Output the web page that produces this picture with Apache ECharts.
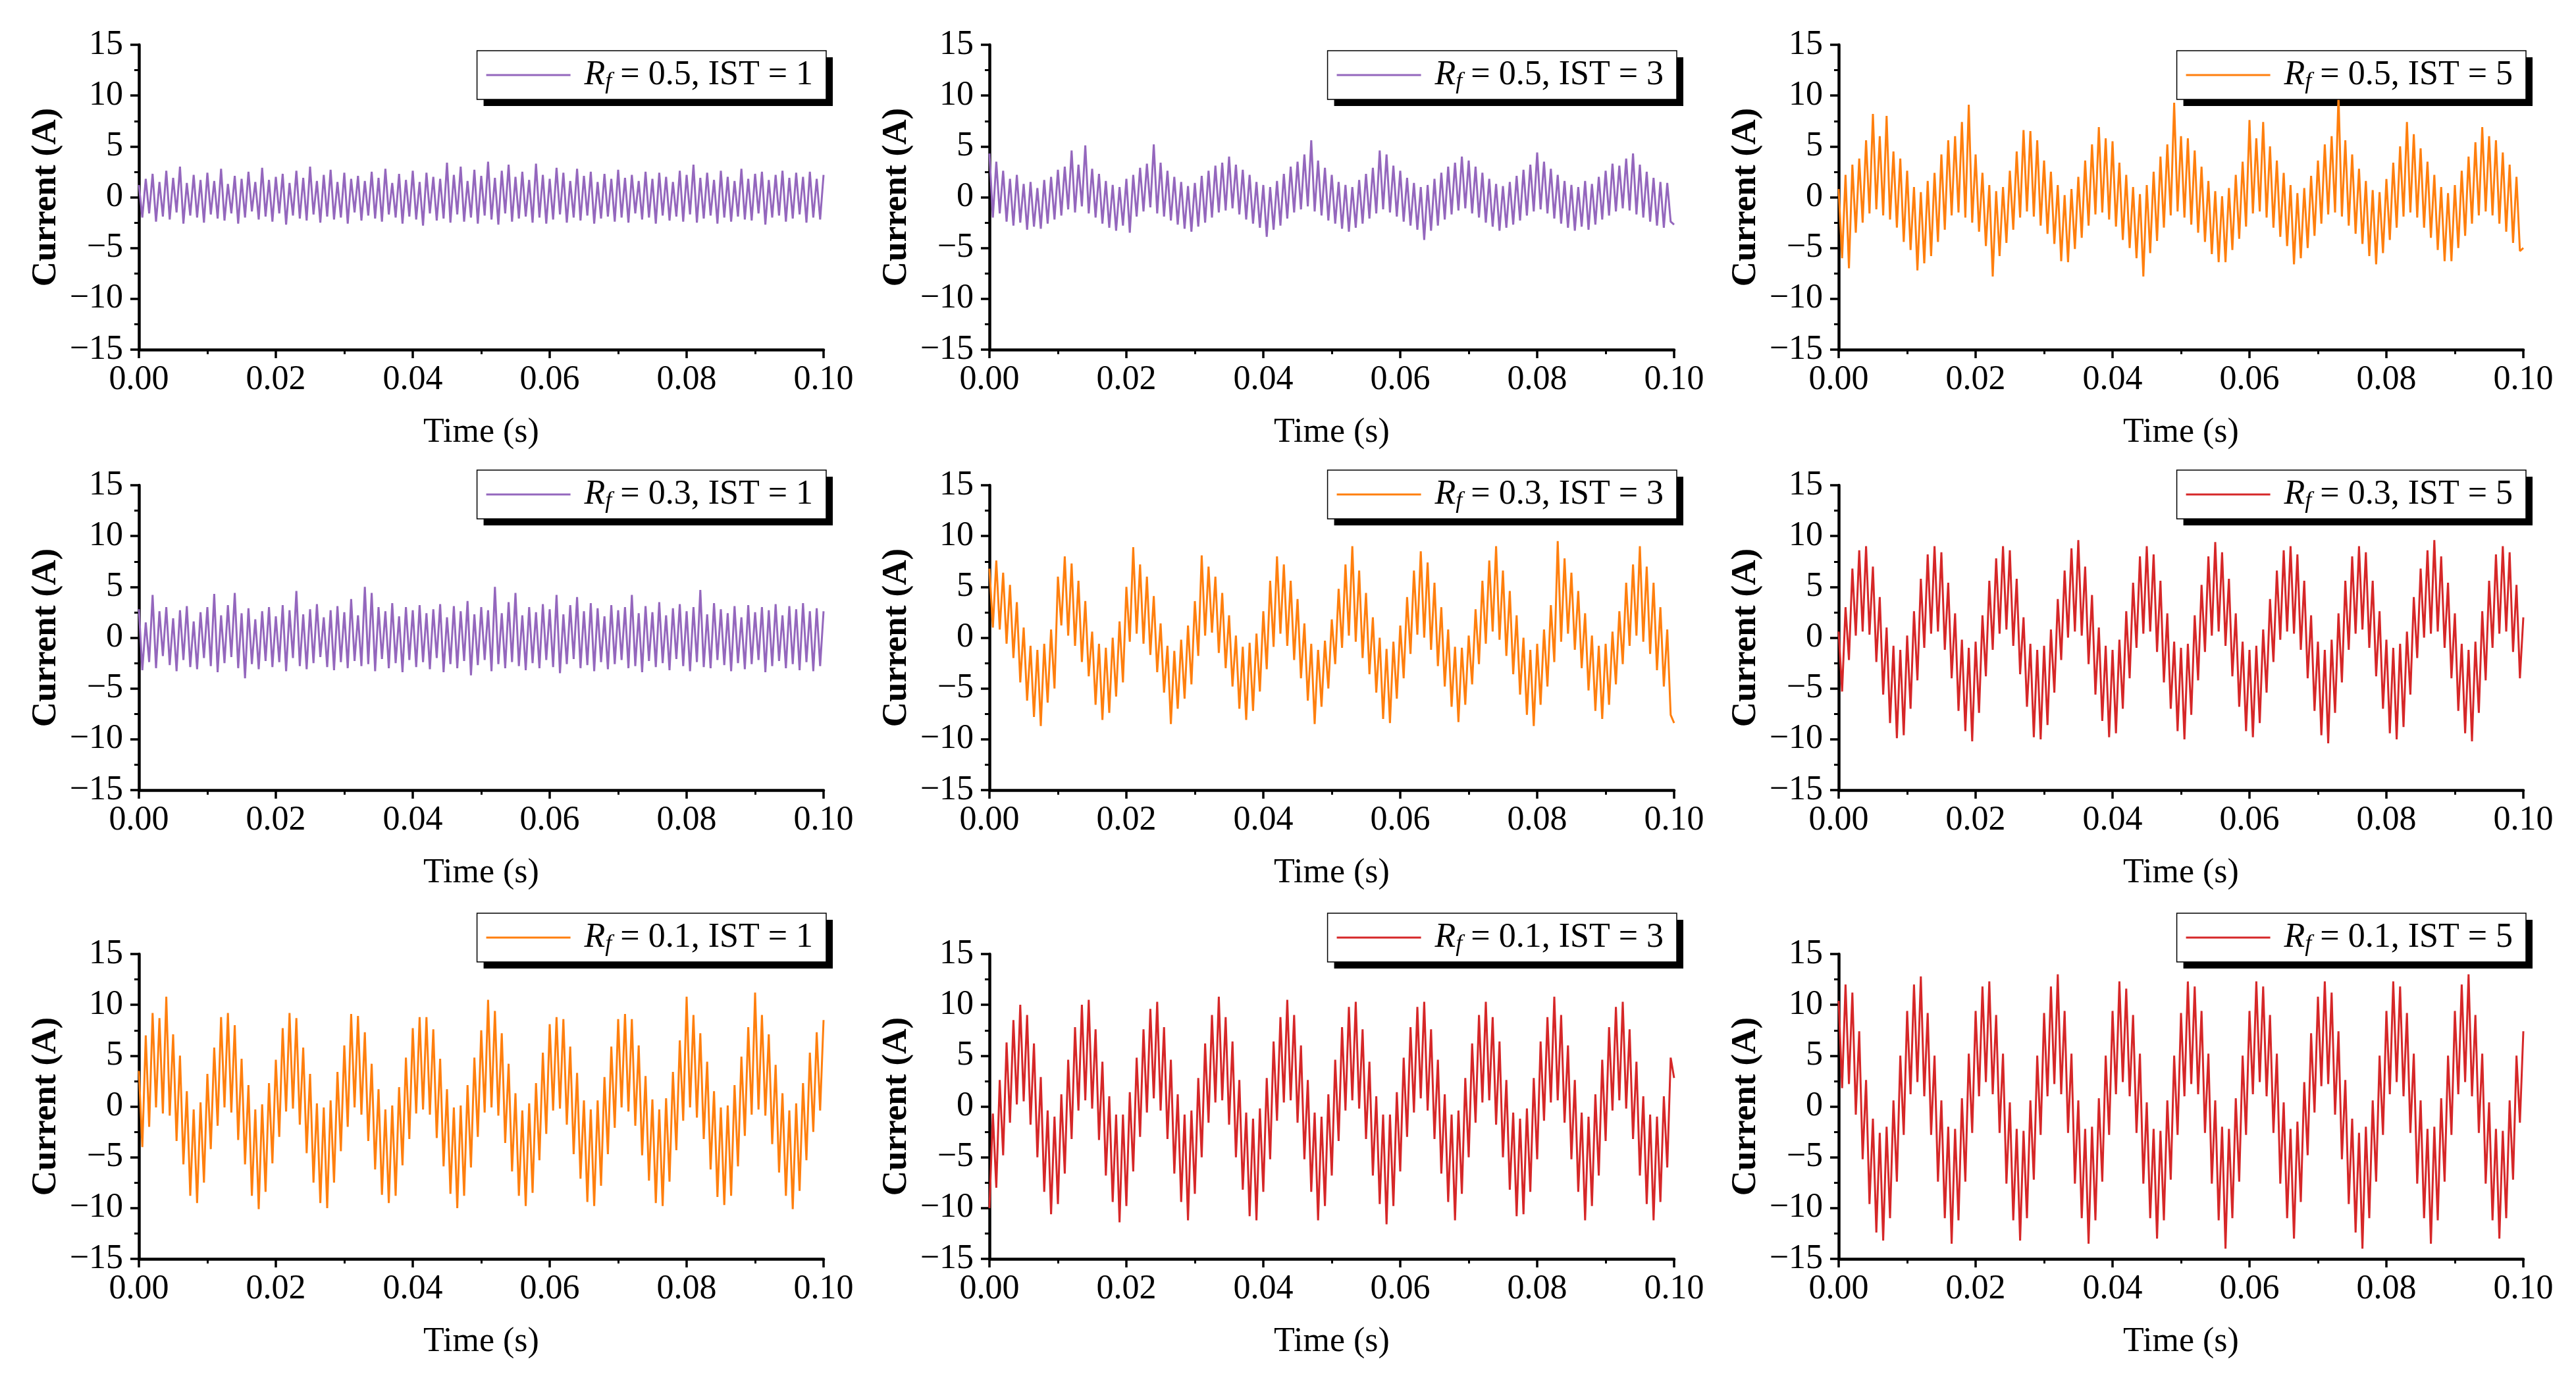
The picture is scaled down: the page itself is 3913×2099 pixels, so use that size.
<!DOCTYPE html>
<html style="height: 100%">
<head>
    <meta charset="utf-8">
    <title>Current waveforms</title>
    <script src="https://cdn.jsdelivr.net/npm/echarts@6.0.0/dist/echarts.min.js"></script>
</head>
<body style="height: 100%; margin: 0; background: #fff">
    <div id="main" style="width: 100%; height: 100%;"></div>
    <script type="text/javascript">
    // sample step of the recorded current (s)
    var dt = 0.0005;
    var rfValues = ['0.5', '0.3', '0.1'];
    var istValues = ['1', '3', '5'];

    var cur05_1 = [1.2,-2.0,1.8,-1.6,2.3,-2.4,1.5,-1.9,2.6,-2.2,
        1.9,-1.5,3.0,-2.6,1.4,-1.8,2.2,-2.0,1.7,-2.5,
        2.4,-1.7,1.6,-2.1,2.8,-2.3,1.3,-1.6,2.1,-2.6,
        1.8,-2.0,2.5,-1.4,1.5,-2.2,2.9,-1.9,1.7,-2.4,
        2.0,-1.6,2.3,-2.7,1.4,-1.8,2.6,-2.1,1.9,-2.3,
        3.0,-1.7,1.6,-2.5,2.2,-1.9,2.7,-2.2,1.5,-2.0,
        2.4,-2.6,1.8,-1.5,2.1,-2.3,1.6,-1.8,2.5,-2.1,
        1.9,-2.4,2.8,-1.7,1.4,-2.0,2.3,-2.6,1.7,-1.9,
        2.6,-2.2,1.5,-2.8,2.4,-1.6,2.0,-2.3,1.8,-2.1,
        3.4,-2.5,2.2,-1.7,3.0,-2.4,1.6,-2.0,2.7,-2.6,
        2.1,-1.8,3.5,-2.2,1.9,-2.7,2.6,-1.6,3.2,-2.4,
        2.0,-2.1,2.5,-1.9,1.7,-2.5,3.3,-2.0,2.2,-2.6,
        1.8,-2.2,2.9,-1.7,2.4,-2.5,1.6,-2.0,2.8,-2.3,
        2.1,-1.8,2.5,-2.6,1.5,-2.1,2.3,-1.9,1.8,-2.4,
        2.7,-2.0,1.9,-2.5,2.2,-1.6,1.6,-2.2,2.5,-2.0,
        1.8,-2.6,2.4,-1.8,2.0,-2.3,1.5,-1.9,2.6,-2.4,
        2.2,-1.7,3.2,-2.5,1.9,-2.1,2.4,-1.8,1.7,-2.6,
        2.6,-2.0,2.0,-2.4,1.6,-1.9,2.8,-2.2,1.8,-2.3,
        2.3,-1.6,2.5,-2.7,1.7,-2.0,2.2,-1.8,2.6,-2.4,
        1.9,-2.1,2.4,-1.7,2.0,-2.5,2.5,-2.0,1.8,-2.2,
        2.2];

    var cur05_3 = [4.3,-2.0,3.5,-1.6,2.6,-2.4,1.8,-2.8,2.2,-2.5,
        1.3,-3.2,1.5,-2.9,0.9,-3.1,1.7,-2.6,2.0,-2.2,
        2.7,-1.8,3.0,-1.2,4.6,-1.5,3.2,-0.9,5.1,-1.6,
        2.8,-2.0,2.3,-2.6,1.6,-3.0,1.2,-3.3,1.0,-2.8,
        1.8,-3.5,2.2,-1.9,2.9,-1.4,3.3,-1.0,5.2,-1.6,
        3.4,-1.9,2.6,-2.3,2.0,-2.7,1.5,-3.1,1.1,-3.4,
        1.4,-2.9,2.1,-2.5,2.6,-2.0,3.1,-1.5,3.4,-1.3,
        4.0,-1.1,3.2,-1.7,2.7,-2.2,2.2,-2.6,1.5,-3.0,
        1.2,-3.9,1.0,-3.2,1.6,-2.8,2.3,-2.1,3.0,-1.5,
        3.5,-1.2,4.2,-0.9,5.6,-1.4,3.6,-1.8,2.9,-2.3,
        2.2,-2.6,1.5,-3.1,1.2,-3.4,1.0,-3.0,1.7,-2.6,
        2.3,-2.1,2.9,-1.6,4.6,-1.2,4.2,-1.5,3.1,-1.9,
        2.6,-2.4,1.9,-2.8,1.4,-3.2,1.0,-4.2,1.2,-3.3,
        1.8,-2.8,2.4,-2.2,3.0,-1.7,3.4,-1.3,4.0,-1.1,
        3.6,-1.6,3.0,-2.0,2.4,-2.5,1.8,-2.9,1.3,-3.3,
        1.1,-3.0,1.5,-2.7,2.1,-2.3,2.7,-1.8,3.2,-1.4,
        4.4,-1.2,3.5,-1.6,2.8,-2.1,2.2,-2.6,1.6,-3.0,
        1.2,-3.3,1.0,-2.9,1.6,-3.2,1.3,-2.7,2.0,-2.2,
        2.6,-1.8,3.3,-1.4,3.1,-1.1,3.8,-1.3,4.3,-1.7,
        3.2,-2.0,2.5,-2.4,1.9,-2.8,1.5,-3.0,1.4,-2.4,
        -2.7];

    var cur05_5 = [0.8,-6.0,2.2,-7.0,3.2,-3.5,3.8,-2.5,5.6,-1.6,
        8.2,-1.2,6.0,-1.8,8.0,-2.2,4.5,-3.0,3.8,-4.4,
        2.6,-5.2,1.0,-7.2,0.5,-6.5,1.6,-5.8,2.4,-4.4,
        4.2,-3.2,5.6,-1.8,6.0,-1.5,7.4,-2.0,9.1,-2.5,
        4.2,-3.4,2.4,-4.8,1.2,-7.8,0.6,-5.8,1.0,-4.5,
        2.6,-3.2,4.5,-2.0,6.6,-1.4,6.5,-1.9,5.6,-2.8,
        3.6,-3.6,2.5,-4.6,1.2,-6.3,0.2,-6.4,0.8,-5.1,
        2.0,-4.0,3.6,-2.8,5.2,-1.7,6.9,-1.5,5.8,-2.2,
        5.5,-2.9,3.4,-4.2,2.2,-5.0,1.0,-6.0,0.3,-7.8,
        1.2,-5.5,2.5,-4.3,4.0,-3.0,5.2,-1.8,9.3,-1.4,
        6.0,-2.0,5.8,-2.7,4.6,-3.5,3.0,-4.4,1.6,-5.6,
        0.6,-6.4,0.1,-6.4,0.9,-5.2,2.2,-4.1,3.5,-2.9,
        7.6,-1.6,5.8,-1.4,7.4,-2.0,5.0,-3.0,3.6,-3.9,
        2.4,-4.8,1.2,-6.6,0.4,-6.0,0.9,-5.0,2.1,-3.8,
        3.6,-2.6,5.2,-1.7,6.0,-1.5,10.0,-1.9,5.6,-2.8,
        4.2,-3.6,2.8,-4.6,1.6,-5.8,0.7,-6.6,0.5,-5.5,
        1.8,-4.2,3.4,-3.0,5.0,-1.9,7.4,-1.5,6.2,-2.0,
        4.8,-3.0,3.5,-4.0,2.2,-5.2,1.0,-6.3,0.4,-6.3,
        1.2,-5.0,2.6,-3.8,4.0,-2.6,5.4,-1.8,6.9,-1.4,
        6.0,-1.8,5.6,-2.6,4.4,-3.4,3.2,-4.5,2.0,-5.3,
        -5.0];

    var cur03_1 = [2.8,-3.2,1.5,-2.4,4.2,-3.0,2.6,-1.8,3.0,-2.7,
        1.9,-3.3,2.7,-2.2,3.1,-2.9,1.6,-3.1,2.5,-2.0,
        3.0,-2.8,4.3,-3.4,2.2,-2.5,3.2,-1.9,4.4,-3.0,
        2.4,-4.0,2.9,-2.6,1.8,-3.1,2.6,-2.3,3.0,-2.9,
        2.1,-2.4,3.2,-3.3,2.7,-2.0,4.6,-2.8,2.3,-3.1,
        2.8,-2.5,3.3,-1.9,2.0,-2.9,2.7,-3.2,3.1,-2.4,
        2.5,-3.0,3.8,-2.3,2.2,-2.8,5.0,-2.6,4.4,-3.3,
        3.0,-2.1,2.6,-3.0,3.4,-2.5,2.1,-3.4,3.0,-2.2,
        2.7,-2.9,3.2,-2.4,2.4,-3.1,2.8,-2.0,3.3,-3.4,
        2.0,-2.6,3.1,-3.0,2.6,-2.3,3.6,-3.7,2.3,-2.7,
        3.0,-2.2,2.7,-3.3,5.0,-2.6,2.4,-3.0,3.5,-2.4,
        4.4,-2.8,2.2,-3.2,3.0,-2.5,2.5,-3.0,3.3,-2.2,
        2.8,-2.9,4.2,-3.5,2.3,-2.6,3.2,-2.1,4.0,-3.0,
        2.6,-2.7,3.4,-3.3,2.9,-2.4,2.1,-3.1,3.2,-2.6,
        2.7,-2.2,3.0,-3.0,4.2,-2.8,2.4,-3.4,3.1,-2.3,
        2.5,-2.9,3.5,-2.5,2.2,-3.2,2.9,-2.1,3.3,-2.8,
        2.6,-3.3,3.0,-2.4,4.7,-2.9,2.3,-3.0,3.4,-2.2,
        2.8,-2.7,2.4,-3.3,3.1,-2.5,2.0,-3.1,3.2,-2.6,
        2.5,-2.2,3.0,-3.4,2.7,-2.8,3.3,-2.3,2.2,-3.0,
        3.1,-2.6,2.8,-3.2,3.4,-2.4,2.6,-3.3,2.9,-2.8,
        2.6];

    var cur03_3 = [6.8,1.0,7.6,0.8,6.4,-0.6,5.2,-2.0,3.5,-4.4,
        1.0,-6.2,-0.8,-7.8,-1.2,-8.7,-0.6,-6.4,0.8,-5.0,
        6.0,1.2,8.0,0.2,7.3,-0.8,5.6,-2.4,3.6,-3.8,
        0.6,-6.6,-0.6,-8.1,-1.0,-7.4,0.0,-5.8,1.6,-4.4,
        5.0,-0.4,8.9,0.4,7.2,-0.6,6.0,-1.7,4.1,-3.4,
        1.4,-5.4,-0.8,-8.5,-1.3,-7.0,-0.2,-6.0,1.2,-4.6,
        3.6,-1.8,8.1,0.2,7.0,0.5,6.0,-1.5,4.4,-3.0,
        2.2,-4.8,0.2,-7.0,-0.9,-8.1,-0.5,-7.2,0.4,-5.3,
        2.6,-3.1,5.6,-0.9,8.0,0.4,7.2,-0.8,5.6,-2.2,
        3.8,-4.0,1.4,-6.2,-0.6,-8.5,-1.2,-6.8,-0.3,-5.0,
        1.8,-2.6,4.8,-1.0,7.2,0.2,9.0,-0.4,6.6,-2.0,
        4.4,-3.6,2.0,-5.4,0.0,-8.0,-1.1,-8.4,-0.4,-6.0,
        1.2,-4.0,4.0,-1.6,6.6,0.3,8.5,0.0,7.4,-1.2,
        5.4,-2.8,3.0,-4.8,0.8,-6.8,-0.9,-8.3,-1.0,-6.6,
        0.2,-4.6,2.8,-2.6,5.6,-0.6,7.6,0.6,9.0,-0.2,
        6.6,-1.8,4.6,-3.6,2.2,-5.6,0.0,-7.6,-1.2,-8.7,
        -0.6,-6.6,0.8,-4.8,3.2,-2.4,9.5,-0.4,7.8,0.4,
        6.4,-1.2,4.6,-3.0,2.4,-5.2,0.2,-7.2,-0.8,-8.0,
        -0.6,-6.6,0.6,-4.6,2.6,-2.6,5.4,-0.8,7.2,0.2,
        9.0,-0.4,7.0,-1.6,5.4,-3.2,3.0,-4.8,0.8,-7.6,
        -8.4];

    var cur03_5 = [0.6,-5.3,3.0,-2.2,6.8,0.2,8.6,0.6,9.0,0.3,
        7.0,-2.4,4.0,-5.6,1.0,-8.4,-0.8,-9.9,-1.2,-9.6,
        0.2,-7.0,2.6,-4.2,5.8,-1.0,8.2,0.4,9.0,0.6,
        8.4,-1.2,5.4,-4.0,2.4,-7.2,-0.2,-9.2,-1.0,-10.2,
        -0.4,-7.4,2.2,-3.8,5.6,-1.2,7.8,0.4,9.0,0.8,
        8.6,-0.8,5.8,-3.6,2.0,-6.8,-0.6,-9.8,-1.2,-10.0,
        -0.8,-8.6,0.8,-5.4,3.8,-2.2,6.6,0.0,8.8,0.6,
        9.6,0.2,7.0,-2.6,4.2,-5.6,1.0,-8.2,-0.8,-9.8,
        -1.2,-9.4,-0.2,-7.0,2.6,-4.0,5.4,-1.0,8.0,0.4,
        9.0,0.6,8.2,-1.4,5.6,-4.4,2.4,-7.0,-0.4,-9.2,
        -1.0,-10.0,-0.6,-7.6,2.2,-4.2,5.2,-1.4,8.0,0.2,
        9.4,0.6,8.4,-0.8,5.8,-3.8,2.4,-6.8,-0.4,-9.2,
        -1.2,-9.8,-0.8,-8.4,0.8,-5.4,3.8,-2.4,6.6,-0.2,
        8.6,0.6,9.0,0.4,8.2,-1.2,5.6,-4.0,2.2,-7.2,
        -0.4,-9.6,-1.2,-10.4,-0.2,-7.4,2.4,-4.4,5.6,-1.2,
        8.0,0.4,9.0,0.8,8.4,-1.0,5.6,-3.8,2.6,-7.0,
        -0.2,-9.4,-1.0,-10.0,-0.6,-8.8,0.6,-5.6,4.0,-2.0,
        6.8,0.0,8.6,0.4,9.6,0.6,8.0,-1.0,5.4,-4.0,
        2.4,-7.2,-0.6,-9.4,-1.2,-10.2,-0.4,-7.4,2.6,-4.2,
        5.6,-1.0,8.2,0.4,9.0,0.6,8.4,-1.4,5.2,-4.0,
        2.0];

    var cur01_1 = [3.5,-4.0,7.0,-2.0,9.2,-0.1,8.7,-0.7,10.8,-0.9,
        7.1,-3.4,5.0,-5.7,1.5,-8.8,-0.3,-9.5,0.4,-7.5,
        3.2,-4.2,5.8,-1.9,8.8,-0.1,9.2,-0.6,8.0,-3.3,
        4.7,-5.7,2.1,-8.8,-0.3,-10.1,0.2,-8.4,2.3,-5.6,
        4.6,-3.0,7.7,-0.5,9.2,-0.2,8.7,-1.8,5.8,-4.6,
        3.2,-7.5,0.3,-9.5,-0.1,-10.0,0.6,-7.5,3.4,-4.4,
        6.0,-2.0,9.1,-0.1,8.9,-0.8,7.3,-3.4,4.2,-6.2,
        1.7,-8.7,-0.3,-9.5,0.1,-8.8,1.9,-5.8,4.8,-3.2,
        7.7,-0.7,8.8,-0.3,8.8,-0.8,7.6,-3.1,4.7,-5.9,
        1.7,-8.6,-0.1,-10.0,0.1,-8.8,2.1,-6.0,4.8,-3.0,
        7.5,-0.6,10.5,-0.1,9.4,-0.9,7.2,-3.6,4.2,-6.4,
        1.3,-8.8,-0.4,-9.8,0.3,-8.5,2.3,-5.3,5.3,-2.7,
        8.1,-0.4,8.8,-0.2,8.6,-1.8,5.9,-4.7,3.3,-7.1,
        0.6,-9.4,-0.3,-9.8,0.6,-7.8,2.9,-4.7,5.9,-2.1,
        8.6,-0.1,9.1,-0.5,8.6,-1.9,6.0,-4.8,3.0,-7.3,
        0.7,-9.5,-0.3,-9.8,0.8,-7.4,3.4,-4.3,6.5,-1.4,
        10.8,-0.1,9.0,-1.1,7.2,-3.2,4.4,-6.2,1.5,-8.9,
        -0.1,-9.7,0.1,-8.8,2.1,-5.9,4.9,-2.9,7.8,-0.8,
        11.2,-0.3,9.0,-0.9,7.1,-3.7,4.1,-6.5,1.3,-8.8,
        -0.4,-10.1,0.3,-8.3,2.3,-5.3,5.3,-2.5,7.3,-0.4,
        8.5];

    var cur01_3 = [-10.0,-0.7,-8.0,2.6,-4.8,6.3,-1.6,8.5,0.2,10.0,
        0.5,9.0,-1.8,6.2,-5.0,2.9,-8.4,-0.4,-10.6,-1.0,
        -9.6,1.2,-6.6,4.6,-3.2,7.8,-0.4,10.0,0.6,10.5,
        -0.2,7.6,-3.3,4.4,-6.8,1.0,-9.4,-0.8,-11.4,-0.8,
        -9.8,1.4,-6.4,4.8,-3.0,7.6,-0.6,9.6,0.8,10.3,
        -0.4,7.8,-3.2,4.6,-6.6,1.2,-9.4,-0.8,-11.2,-0.4,
        -8.6,2.8,-5.0,6.2,-1.6,9.0,0.4,10.8,0.6,8.8,
        -1.8,6.4,-5.0,2.6,-8.2,-0.6,-10.8,-1.2,-11.2,-0.2,
        -8.4,2.8,-5.2,6.4,-1.4,8.8,0.4,10.5,0.6,9.0,
        -1.6,6.0,-5.2,2.6,-8.4,-0.6,-11.2,-1.0,-9.8,1.2,
        -6.8,4.6,-3.4,7.8,-0.4,9.8,0.6,10.3,-0.2,7.6,
        -3.2,4.4,-6.8,1.0,-9.6,-0.8,-11.6,-0.8,-9.8,1.4,
        -6.4,4.8,-3.0,7.8,-0.6,9.8,0.8,10.3,-0.4,7.6,
        -3.2,4.6,-6.6,1.2,-9.4,-0.8,-11.2,-0.4,-8.6,2.8,
        -5.0,6.2,-1.6,9.0,0.4,10.3,0.6,8.8,-1.8,6.4,
        -5.0,2.6,-8.2,-0.6,-10.8,-1.2,-10.6,-0.2,-8.4,2.8,
        -5.2,6.4,-1.4,8.8,0.4,10.8,0.6,9.0,-1.6,6.0,
        -5.2,2.6,-8.4,-0.6,-11.2,-1.0,-9.8,1.2,-6.8,4.6,
        -3.4,7.8,-0.4,9.8,0.6,10.3,-0.2,7.6,-3.2,4.4,
        -6.8,1.0,-9.6,-0.8,-11.2,-1.0,-9.4,1.0,-6.0,4.8,
        2.8];

    var cur01_5 = [10.4,1.8,12.0,2.2,11.2,-0.8,7.4,-5.2,2.6,-9.6,
        -1.2,-12.4,-2.6,-13.2,-2.0,-11.0,0.6,-7.4,5.0,-2.8,
        9.4,1.2,12.0,2.4,12.8,1.0,9.2,-2.8,5.0,-7.4,
        0.6,-11.0,-2.0,-13.5,-2.2,-11.2,0.8,-7.4,5.2,-2.6,
        9.4,1.0,11.8,2.4,12.3,1.2,9.0,-2.6,5.2,-7.6,
        0.4,-11.2,-2.2,-13.2,-2.4,-11.0,0.6,-7.2,5.0,-2.8,
        9.2,1.0,11.8,2.2,13.0,1.2,9.4,-2.6,5.2,-7.6,
        0.6,-11.0,-2.2,-13.5,-2.0,-11.2,0.8,-7.4,5.0,-2.8,
        9.4,1.2,12.3,2.4,11.6,1.0,9.0,-2.6,5.2,-7.6,
        0.4,-11.0,-2.2,-13.0,-2.4,-11.2,0.6,-7.2,5.0,-2.8,
        9.2,1.0,12.3,2.2,11.8,1.2,9.4,-2.6,5.2,-7.6,
        0.6,-11.2,-2.0,-14.0,-2.2,-11.0,0.8,-7.4,5.0,-2.8,
        9.4,1.2,12.3,2.4,11.8,1.0,9.0,-2.6,5.2,-7.6,
        0.4,-11.0,-2.2,-13.0,-1.5,-9.4,2.4,-4.8,7.2,-0.6,
        10.8,2.0,12.3,2.2,11.2,-0.8,7.4,-5.2,2.6,-9.6,
        -1.2,-12.4,-2.6,-14.0,-2.0,-11.0,0.6,-7.4,5.0,-2.8,
        9.4,1.2,12.3,2.4,11.8,1.0,9.2,-2.6,5.2,-7.6,
        0.6,-11.0,-2.2,-13.5,-2.0,-11.2,0.8,-7.4,5.0,-2.8,
        9.4,1.2,12.0,2.4,13.0,1.0,9.0,-2.6,5.2,-7.6,
        0.4,-11.2,-2.2,-13.0,-2.4,-11.0,0.6,-7.2,5.0,-1.6,
        7.4];

    var purple = '#9467bd', orange = '#ff7f0e', red = '#d62728';
    var panelData = [cur05_1, cur05_3, cur05_5, cur03_1, cur03_3, cur03_5, cur01_1, cur01_3, cur01_5];
    var panelColor = [purple, purple, orange, purple, orange, red, orange, red, red];

    var W = 3913;
    var colLeft = [211, 1503, 2793];
    var rowTop = [68, 737, 1449];
    var legendTop = [77, 714, 1387];
    var gridW = 1040, gridH = 463;
    var shadowOff = 10;
    var font = 'Liberation Serif';

    var grid = [], xAxis = [], yAxis = [], series = [], legend = [];

    function legendText(rf, ist) {
        return function () {
            return '{g| }{i|R}{s|f}{n| = ' + rf + ', IST = ' + ist + '}';
        };
    }

    function legendBox(name, rf, ist, top, right, iconColor, isShadow) {
        return {
            data: [{ name: name, itemStyle: { color: iconColor } }],
            top: top, right: right,
            z: isShadow ? 3 : 5,
            backgroundColor: isShadow ? '#000' : '#fff',
            borderColor: '#000', borderWidth: isShadow ? 0 : 1.5, borderRadius: 0,
            padding: [8, 20, 8, 14],
            itemWidth: 128, itemHeight: 3, icon: 'rect',
            itemStyle: { color: iconColor },
            selectedMode: false,
            formatter: legendText(rf, ist),
            textStyle: {
                fontFamily: font, fontSize: 52, color: '#000',
                rich: {
                    g: { width: 16, fontSize: 52, lineHeight: 56 },
                    i: { fontFamily: font, fontStyle: 'italic', fontSize: 52, lineHeight: 56 },
                    s: { fontFamily: font, fontStyle: 'italic', fontSize: 36, lineHeight: 40, padding: [22, 0, 0, 0] },
                    n: { fontFamily: font, fontSize: 52, lineHeight: 56 }
                }
            }
        };
    }

    for (var r = 0; r < 3; r++) {
        for (var c = 0; c < 3; c++) {
            var k = r * 3 + c;
            var name = 'Rf = ' + rfValues[r] + ', IST = ' + istValues[c];
            var rightGap = W - (colLeft[c] + gridW + 4);
            grid.push({
                left: colLeft[c], top: rowTop[r], width: gridW, height: gridH,
                containLabel: false, outerBoundsMode: 'none'
            });
            xAxis.push({
                gridIndex: k, type: 'value', min: 0, max: 0.1, interval: 0.02,
                name: 'Time (s)', nameLocation: 'middle', nameGap: 100,
                nameTextStyle: { fontFamily: font, fontSize: 52, color: '#000' },
                axisLine: { show: true, onZero: false, lineStyle: { color: '#000', width: 4.5 } },
                axisTick: { show: true, inside: false, length: 13, lineStyle: { color: '#000', width: 3.5 } },
                minorTick: { show: true, splitNumber: 2, length: 7, lineStyle: { color: '#000', width: 3 } },
                axisLabel: {
                    fontFamily: font, fontSize: 52, color: '#000', margin: 20,
                    formatter: function (v) { return v.toFixed(2); }
                },
                splitLine: { show: false }
            });
            yAxis.push({
                gridIndex: k, type: 'value', min: -15, max: 15, interval: 5,
                name: 'Current (A)', nameLocation: 'middle', nameGap: 114, nameRotate: 90,
                nameTextStyle: { fontFamily: font, fontSize: 53, fontWeight: 'bold', color: '#000' },
                axisLine: { show: true, onZero: false, lineStyle: { color: '#000', width: 4.5 } },
                axisTick: { show: true, inside: false, length: 13, lineStyle: { color: '#000', width: 3.5 } },
                minorTick: { show: true, splitNumber: 2, length: 7, lineStyle: { color: '#000', width: 3 } },
                axisLabel: {
                    fontFamily: font, fontSize: 52, color: '#000', margin: 24,
                    formatter: function (v) { return String(v).replace('-', '\u2212'); }
                },
                splitLine: { show: false }
            });
            series.push({
                type: 'line', name: name,
                xAxisIndex: k, yAxisIndex: k,
                data: panelData[k].map(function (v, i) { return [i * dt, v]; }),
                showSymbol: false, symbol: 'none',
                lineStyle: { width: 3, color: panelColor[k] },
                itemStyle: { color: panelColor[k] },
                animation: false, silent: true
            });
            // solid drop shadow behind each legend box
            legend.push(legendBox(name, rfValues[r], istValues[c],
                legendTop[r] + shadowOff, rightGap - shadowOff, '#000', true));
            legend.push(legendBox(name, rfValues[r], istValues[c],
                legendTop[r], rightGap, panelColor[k], false));
        }
    }

    var option = {
        backgroundColor: '#fff',
        animation: false,
        grid: grid,
        xAxis: xAxis,
        yAxis: yAxis,
        legend: legend,
        series: series
    };

    var myChart = echarts.init(document.getElementById('main'));
    myChart.setOption(option);
    window.onresize = function () {
        myChart.resize();
    };
    </script>
</body>
</html>
